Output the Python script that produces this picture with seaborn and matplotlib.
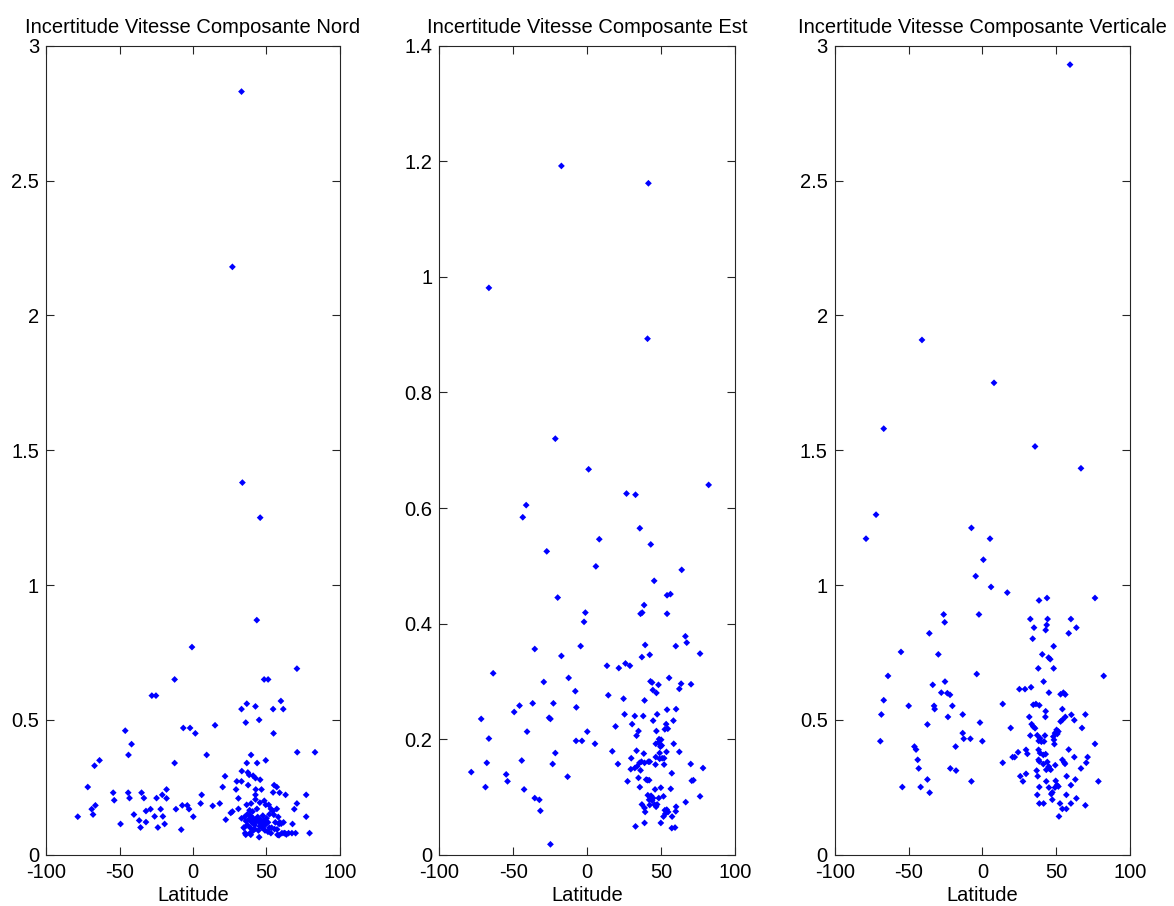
import matplotlib
matplotlib.use("Agg")
import matplotlib.pyplot as plt
from matplotlib.ticker import FormatStrFormatter, MultipleLocator
import numpy as np
import pandas as pd
import seaborn as sns

# Velocity uncertainty per station versus latitude, three components

lat_nord = [
    33.0, 26.8, 33.6, 45.7, 43.4, -0.7,
    70.7, -12.5, 48.4, 51.1, -28.0, -25.2, 59.8, 33.0, 36.6, 42.5, 54.5, 61.4,
    35.9, 45.0, 54.8, 15.0, -46.1, -6.6, -2.0, 1.6, -41.8, -43.9, -63.6, -67.0,
    9.3, -12.5, 39.5, 49.5, 70.9, 83.0, 36.6, 43.6, 33.2, 37.3, 38.2, 40.9,
    42.5, 45.7, 21.8, 29.8, 33.0, 37.5, 42.7, 46.6, 55.2, 57.0, 20.2, 29.3,
    42.5, 54.5, 58.9, 63.0, 77.0, 30.9, -71.6, -54.3, -53.6, -44.1, -43.2, -35.0,
    -33.4, -24.8, -20.9, -18.0, -18.0, 5.9, 5.2, 13.4, 18.2, -66.4, -68.9, -68.0,
    -78.4, -49.3, -40.2, -36.6, -35.7, -32.0, -32.0, -28.9, -26.1, -23.9, -22.0, -20.5,
    -19.3, -11.6, -8.0, -7.3, -3.9, -2.7, 0.2, 70.7, 68.9, 77.0, 67.7, 79.3,
    69.8, 67.3,
    22.3, 25.7, 26.8, 30.9, 33.0, 35.0, 36.0, 37.0, 38.0, 39.0, 40.0, 41.0,
    42.0, 43.0, 44.0, 45.0, 45.5, 46.0, 47.0, 47.5, 48.0, 49.0, 50.0, 51.0,
    52.0, 36.5, 39.5, 42.5, 45.5, 48.5, 49.5, 51.5, 53.0, 54.3, 57.0, 38.5,
    40.5, 43.5, 52.0, 55.0, 58.0, 59.0, 34.5, 35.5, 38.8, 42.0, 44.5, 45.0,
    47.0, 49.0, 51.0, 53.5, 55.5, 58.5, 60.5, 62.0, 63.5, 65.0, 39.0, 37.0,
    41.0, 56.0, 60.0, 57.2, 34.8, 35.9, 39.3, 58.6, 61.6, 62.5, 57.5, 53.0,
]
nord = [
    2.83, 2.18, 1.38, 1.25, 0.87, 0.77,
    0.69, 0.65, 0.65, 0.65, 0.59, 0.59, 0.57, 0.54, 0.56, 0.55, 0.54, 0.54,
    0.49, 0.50, 0.45, 0.48, 0.46, 0.47, 0.47, 0.45, 0.41, 0.37, 0.35, 0.33,
    0.37, 0.34, 0.37, 0.35, 0.38, 0.38, 0.34, 0.34, 0.31, 0.305, 0.296, 0.293,
    0.284, 0.278, 0.291, 0.272, 0.272, 0.258, 0.242, 0.242, 0.258, 0.251, 0.251, 0.242,
    0.222, 0.231, 0.230, 0.222, 0.222, 0.209, 0.251, 0.230, 0.202, 0.230, 0.210, 0.230,
    0.210, 0.210, 0.222, 0.242, 0.209, 0.222, 0.190, 0.181, 0.190, 0.183, 0.169, 0.149,
    0.141, 0.114, 0.149, 0.127, 0.101, 0.162, 0.121, 0.169, 0.142, 0.101, 0.169, 0.142,
    0.114, 0.169, 0.093, 0.183, 0.183, 0.169, 0.141, 0.190, 0.169, 0.141, 0.114, 0.080,
    0.080, 0.080,
    0.130, 0.155, 0.160, 0.170, 0.135, 0.140, 0.125, 0.150, 0.130, 0.145, 0.120, 0.135,
    0.110, 0.125, 0.140, 0.120, 0.105, 0.130, 0.115, 0.145, 0.125, 0.110, 0.135, 0.120,
    0.100, 0.185, 0.190, 0.205, 0.193, 0.200, 0.185, 0.185, 0.170, 0.162, 0.170, 0.165,
    0.160, 0.170, 0.150, 0.148, 0.140, 0.120, 0.100, 0.080, 0.080, 0.095, 0.090, 0.065,
    0.100, 0.090, 0.085, 0.100, 0.095, 0.072, 0.080, 0.080, 0.075, 0.080, 0.100, 0.110,
    0.090, 0.120, 0.115, 0.094, 0.101, 0.074, 0.074, 0.114, 0.120, 0.080, 0.074, 0.080,
]

lat_est = [
    -17.5, 41.3, -66.5, 40.7, -21.6, 0.9, 82.0, 26.5, 32.6, -41.3, -43.6, 35.5,
    8.1, 42.9, -27.4, 5.8, 63.8,
    45.2, 53.9, 56.2, -20.0, 38.4, -1.3, 36.0, 37.1, 53.9, -2.2, 66.3,
    67.2, 39.1, -4.5, 59.8, -35.5, 42.2, 36.9, 76.2, -17.5, -63.6, 13.3, 21.3,
    25.8, 28.8, -12.6, -29.4, 55.3, 42.7, 43.8, 48.1, 63.4, 70.1, 62.2, 44.3,
    46.7, -8.1, 14.2, 24.5, 38.7, -36.9, -45.8, -22.9, -7.4, 60.0, 53.9, -49.4,
    -71.7, -25.8, -24.9, 25.2, 32.1, 37.8, 47.2, 44.5, 58.2, 30.3, 53.3, 19.1,
    33.3, 34.6, 46.7, 52.4, 54.4, -40.7, 0.0, -66.5, -7.6, -3.6, 5.2, 48.5,
    49.9, 48.1, 50.3, 46.3, 49.4, 48.9, 58.4, 16.9, -21.6, 33.3, 38.2, 53.5,
    62.2, 29.7, 46.3, 48.9, 50.6, 51.9, -44.3, -67.9, -23.4, 20.7, 35.3, 36.6,
    38.7, 41.3, 42.2, 46.1, 51.9, 29.4, 32.1, 33.7, 36.0, 69.9, 78.2, -78.4,
    -54.8, 57.1, -13.3, 34.6, 39.8, 41.8, 40.7, -53.9, 27.2, 70.6, 71.7, -68.8,
    35.5, 56.4, 49.7, 45.8, -42.7, 40.9, 43.1, 44.5, 41.8, 43.8, 48.3, 51.5,
    76.2, -35.5, -32.4, 66.5, 36.9, 42.2, 45.4, 47.2, 46.5, 38.7, 39.1, -31.7,
    52.4, 53.7, 54.6, 52.8, 60.0, 59.8, 51.5, 57.3, 38.7, 49.7, 32.6, 57.1,
    59.3, -24.9,
]
est = [
    1.192, 1.162, 0.981, 0.893, 0.720, 0.667, 0.640, 0.625, 0.623, 0.605, 0.584, 0.565,
    0.546, 0.537, 0.525, 0.499, 0.493,
    0.474, 0.449, 0.451, 0.445, 0.432, 0.419, 0.417, 0.419, 0.417, 0.403, 0.378,
    0.367, 0.363, 0.361, 0.361, 0.356, 0.346, 0.342, 0.348, 0.344, 0.314, 0.327, 0.323,
    0.331, 0.327, 0.306, 0.299, 0.306, 0.300, 0.298, 0.294, 0.296, 0.295, 0.287, 0.285,
    0.280, 0.283, 0.276, 0.270, 0.267, 0.262, 0.258, 0.262, 0.255, 0.252, 0.251, 0.247,
    0.235, 0.237, 0.235, 0.243, 0.240, 0.240, 0.243, 0.232, 0.232, 0.226, 0.226, 0.222,
    0.206, 0.214, 0.214, 0.217, 0.218, 0.213, 0.213, 0.201, 0.197, 0.197, 0.192, 0.200,
    0.199, 0.194, 0.189, 0.192, 0.187, 0.176, 0.192, 0.179, 0.176, 0.180, 0.175, 0.178,
    0.178, 0.167, 0.169, 0.166, 0.167, 0.167, 0.163, 0.159, 0.157, 0.157, 0.159, 0.161,
    0.159, 0.161, 0.161, 0.156, 0.156, 0.148, 0.150, 0.153, 0.146, 0.157, 0.150, 0.143,
    0.139, 0.141, 0.135, 0.133, 0.130, 0.129, 0.129, 0.127, 0.127, 0.128, 0.129, 0.117,
    0.117, 0.114, 0.116, 0.113, 0.113, 0.103, 0.102, 0.098, 0.095, 0.094, 0.098, 0.101,
    0.101, 0.098, 0.095, 0.091, 0.087, 0.086, 0.087, 0.087, 0.083, 0.081, 0.074, 0.076,
    0.077, 0.078, 0.074, 0.071, 0.083, 0.075, 0.066, 0.066, 0.055, 0.055, 0.049, 0.046,
    0.047, 0.018,
]

lat_vert = [
    59.4, -40.9, 7.9, -66.8, 35.7, 66.8, -72.0, -78.8, -7.4, 5.2, 0.7,
    -4.5, 5.9, 16.9, 38.4, 43.8, 76.3, -26.2, -2.3, -25.5, 32.5, 44.2, 60.0,
    43.6, 35.0, 42.9, 63.7, -35.9, 58.5, 34.1, 48.3, -55.1, -29.8, 40.6, 44.9,
    46.0, 37.9, 48.3, -63.9, -3.8, 82.2, 41.5, -25.3, -33.6, 33.0, 25.1, 28.9,
    -27.8, -23.7, -21.9, 45.1, 53.0, 54.9, 56.2, -66.8, 13.8, 34.5, 36.3, 38.6,
    -49.9, -32.7, -32.3, -20.3, 54.2, 42.9, -68.4, -13.3, -23.3, 60.3, 69.8, 56.2,
    42.7, 31.8, 53.0, 54.2, 62.3, -1.6, -37.2, 33.4, 34.5, 35.7, 19.2, 50.3,
    51.5, 49.2, 50.8, 48.1, 48.5, 67.5, 32.5, 37.2, 39.1, 38.2, 40.0, 42.4,
    -13.3, -12.6, -8.1, 0.0, -69.1, 41.8, 48.8, 76.3, -46.0, -44.9, -18.1, 58.5,
    38.1, 39.1, 41.3, 42.9, 24.2, 29.6, 30.5, 20.5, 21.9, 62.3, 71.3, 54.2,
    55.5, 56.0, -43.8, 13.8, 38.1, 38.6, 41.3, 44.0, 45.0, 45.4, 46.3, 43.3,
    49.4, 70.4, -43.1, -21.7, -17.8, 66.8, 36.8, 29.6, 25.7, 27.5, 37.5, 57.1,
    -37.2, -7.4, 43.3, 49.7, 50.6, 49.2, 51.5, 63.0, 78.6, 60.0, -54.2, -41.8,
    -35.7, 38.6, 45.1, 37.2, 46.7, 47.4, 56.9, 47.4, 63.7, 38.6, 41.5, 52.6,
    60.0, 69.8, 54.2, 56.9, 51.9,
]
vert = [
    2.93, 1.909, 1.75, 1.58, 1.514, 1.433, 1.261, 1.172, 1.212, 1.172, 1.094,
    1.033, 0.993, 0.972, 0.943, 0.952, 0.952, 0.891, 0.891, 0.862, 0.874, 0.874, 0.874,
    0.852, 0.842, 0.833, 0.842, 0.821, 0.821, 0.801, 0.773, 0.752, 0.743, 0.743, 0.731,
    0.725, 0.691, 0.691, 0.663, 0.670, 0.663, 0.642, 0.642, 0.630, 0.621, 0.614, 0.614,
    0.601, 0.599, 0.593, 0.601, 0.595, 0.601, 0.594, 0.573, 0.559, 0.556, 0.559, 0.554,
    0.552, 0.552, 0.540, 0.552, 0.540, 0.532, 0.520, 0.520, 0.511, 0.519, 0.520, 0.511,
    0.511, 0.511, 0.494, 0.500, 0.499, 0.490, 0.483, 0.484, 0.475, 0.469, 0.470, 0.463,
    0.457, 0.451, 0.448, 0.438, 0.426, 0.470, 0.442, 0.443, 0.432, 0.422, 0.419, 0.442,
    0.451, 0.430, 0.430, 0.421, 0.421, 0.420, 0.410, 0.411, 0.401, 0.390, 0.401, 0.390,
    0.389, 0.377, 0.370, 0.373, 0.380, 0.389, 0.374, 0.362, 0.362, 0.362, 0.362, 0.352,
    0.342, 0.337, 0.352, 0.341, 0.352, 0.346, 0.336, 0.344, 0.327, 0.319, 0.315, 0.315,
    0.332, 0.341, 0.320, 0.320, 0.312, 0.320, 0.312, 0.300, 0.291, 0.272, 0.291, 0.291,
    0.279, 0.272, 0.272, 0.274, 0.258, 0.249, 0.253, 0.279, 0.272, 0.258, 0.251, 0.251,
    0.230, 0.251, 0.249, 0.222, 0.225, 0.231, 0.222, 0.204, 0.209, 0.190, 0.190, 0.190,
    0.190, 0.183, 0.170, 0.170, 0.142,
]

titles = [
    "Incertitude Vitesse Composante Nord",
    "Incertitude Vitesse Composante Est",
    "Incertitude Vitesse Composante Verticale",
]
x_ticks = [-100, -50, 0, 50, 100]
y_limits = [3.0, 1.4, 3.0]
y_steps = [0.5, 0.2, 0.5]

sns.set_theme(style="white")
plt.rcParams["font.family"] = ["Liberation Sans", "DejaVu Sans"]
plt.rcParams["axes.unicode_minus"] = False

fig = plt.figure(figsize=(11.74, 9.06), dpi=100)
panels = [
    (0.0392, 0.2504),
    (0.3742, 0.2521),
    (0.7110, 0.2515),
]
bottom, height = 0.0566, 0.8929

series = [(lat_nord, nord), (lat_est, est), (lat_vert, vert)]
for (left, width), (lats, vals), title, ymax, step in zip(panels, series, titles, y_limits, y_steps):
    ax = fig.add_axes([left, bottom, width, height])
    df = pd.DataFrame({"Latitude": lats, "valeur": vals})
    sns.scatterplot(data=df, x="Latitude", y="valeur", ax=ax, color="#0000ff",
                    marker="D", s=12, linewidth=0, edgecolor="none")
    ax.set_xlim(-100, 100)
    ax.set_ylim(0, ymax)
    ax.set_xticks(x_ticks)
    ax.yaxis.set_major_locator(MultipleLocator(step))
    ax.yaxis.set_major_formatter(FormatStrFormatter("%g"))
    ax.set_xlabel("Latitude", fontsize=14.5, color="black", labelpad=3)
    ax.set_ylabel("")
    ax.set_title(title, fontsize=14.5, color="black", pad=9)
    ax.tick_params(direction="in", length=6, width=0.8, colors="#262626",
                   labelcolor="black", labelsize=14.5,
                   top=True, right=True, bottom=True, left=True)
    ax.tick_params(axis="x", pad=6)
    ax.tick_params(axis="y", pad=5)
    for sp in ax.spines.values():
        sp.set_visible(True)
        sp.set_color("#262626")
        sp.set_linewidth(0.8)
    ax.set_facecolor("white")

fig.savefig("out.png", dpi=100, facecolor="white")
